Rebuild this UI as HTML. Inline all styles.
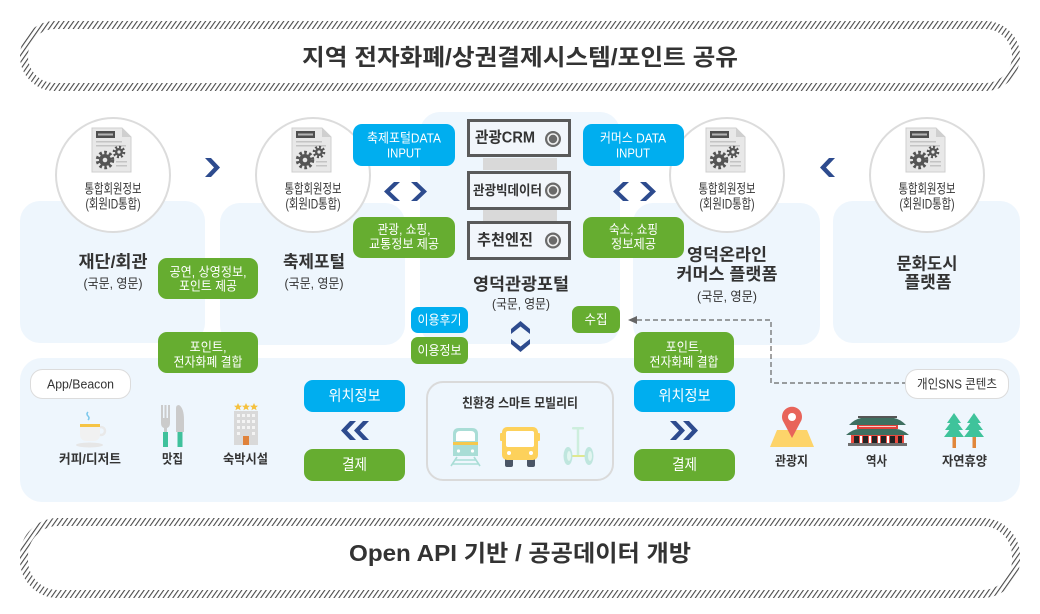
<!DOCTYPE html>
<html><head><meta charset="utf-8"><style>
html,body{margin:0;padding:0;background:#fff;}
svg{display:block;}
text{font-family:"Liberation Sans","Noto Sans CJK KR",sans-serif;}
.d{fill:#333;}
.w{fill:#fff;}
.b{font-weight:bold;}
</style></head><body>
<svg width="1040" height="614" viewBox="0 0 1040 614" xmlns="http://www.w3.org/2000/svg">
<defs>
<pattern id="hatch" patternUnits="userSpaceOnUse" width="4" height="4" patternTransform="rotate(35)">
<rect x="0" y="0" width="1.1" height="4" fill="#4a4a4a"/>
</pattern>
<g id="doc">
<path d="M0,0 H30 L39,9 V44 H0 Z" fill="#e8e8e8" stroke="#cfcfcf" stroke-width="1"/>
<path d="M30,0 V9 H39 Z" fill="#cfcfcf"/>
<rect x="4" y="3" width="19" height="7" fill="#4f4f4f"/>
<rect x="6" y="5.5" width="15" height="2" fill="#b5b5b5"/>
<rect x="4" y="13" width="26" height="1.5" fill="#c4c4c4"/>
<rect x="4" y="17" width="30" height="1.5" fill="#c4c4c4"/>
<rect x="24" y="33" width="11" height="1.5" fill="#c4c4c4"/>
<rect x="24" y="37" width="11" height="1.5" fill="#c4c4c4"/>
<circle cx="13" cy="32" r="7.5" fill="none" stroke="#555" stroke-width="3.5" stroke-dasharray="2.6,2.3"/>
<circle cx="13" cy="32" r="6" fill="#555"/>
<circle cx="13" cy="32" r="2.3" fill="#e8e8e8"/>
<circle cx="27" cy="24" r="5" fill="none" stroke="#555" stroke-width="2.6" stroke-dasharray="2,1.9"/>
<circle cx="27" cy="24" r="4" fill="#555"/>
<circle cx="27" cy="24" r="1.6" fill="#e8e8e8"/>
</g>
<g id="crmdot">
<circle cx="0" cy="0" r="8" fill="#6a6a6a"/>
<circle cx="0" cy="0" r="5" fill="none" stroke="#f0f0f0" stroke-width="1.6"/>
<circle cx="0" cy="0" r="3.3" fill="#6a6a6a"/>
</g>
</defs>

<!-- Top banner -->
<rect x="24" y="25" width="992" height="62" rx="31" fill="#fff" stroke="url(#hatch)" stroke-width="8"/>
<text x="520" y="57" text-anchor="middle" dominant-baseline="central" class="d b" font-size="23" textLength="436" lengthAdjust="spacingAndGlyphs">지역 전자화폐/상권결제시스템/포인트 공유</text>

<!-- Bottom banner -->
<rect x="24" y="522" width="992" height="72" rx="34" fill="#fff" stroke="url(#hatch)" stroke-width="8"/>
<text x="520" y="553" text-anchor="middle" dominant-baseline="central" class="d b" font-size="23" textLength="342" lengthAdjust="spacingAndGlyphs">Open API 기반 / 공공데이터 개방</text>

<!-- Panels -->
<rect x="20" y="201" width="185" height="142" rx="20" fill="#eef6fd"/>
<rect x="220" y="203" width="185" height="142" rx="20" fill="#eef6fd"/>
<rect x="420" y="112" width="200" height="232" rx="20" fill="#eef6fd"/>
<rect x="633" y="203" width="187" height="142" rx="20" fill="#eef6fd"/>
<rect x="833" y="201" width="187" height="142" rx="20" fill="#eef6fd"/>
<rect x="20" y="358" width="1000" height="144" rx="22" fill="#eef6fd"/>

<!-- Circles -->
<g>
<circle cx="113" cy="175" r="57" fill="#fff" stroke="#dcdcdc" stroke-width="2"/>
<use href="#doc" transform="translate(92,128)"/>
<text x="113" y="189" text-anchor="middle" dominant-baseline="central" class="d" font-size="13.5" textLength="57" lengthAdjust="spacingAndGlyphs">통합회원정보</text>
<text x="113" y="204" text-anchor="middle" dominant-baseline="central" class="d" font-size="13.5" textLength="55" lengthAdjust="spacingAndGlyphs">(회원ID통합)</text>
</g>
<g>
<circle cx="313" cy="175" r="57" fill="#fff" stroke="#dcdcdc" stroke-width="2"/>
<use href="#doc" transform="translate(292,128)"/>
<text x="313" y="189" text-anchor="middle" dominant-baseline="central" class="d" font-size="13.5" textLength="57" lengthAdjust="spacingAndGlyphs">통합회원정보</text>
<text x="313" y="204" text-anchor="middle" dominant-baseline="central" class="d" font-size="13.5" textLength="55" lengthAdjust="spacingAndGlyphs">(회원ID통합)</text>
</g>
<g>
<circle cx="727" cy="175" r="57" fill="#fff" stroke="#dcdcdc" stroke-width="2"/>
<use href="#doc" transform="translate(706,128)"/>
<text x="727" y="189" text-anchor="middle" dominant-baseline="central" class="d" font-size="13.5" textLength="57" lengthAdjust="spacingAndGlyphs">통합회원정보</text>
<text x="727" y="204" text-anchor="middle" dominant-baseline="central" class="d" font-size="13.5" textLength="55" lengthAdjust="spacingAndGlyphs">(회원ID통합)</text>
</g>
<g>
<circle cx="927" cy="175" r="57" fill="#fff" stroke="#dcdcdc" stroke-width="2"/>
<use href="#doc" transform="translate(906,128)"/>
<text x="927" y="189" text-anchor="middle" dominant-baseline="central" class="d" font-size="13.5" textLength="57" lengthAdjust="spacingAndGlyphs">통합회원정보</text>
<text x="927" y="204" text-anchor="middle" dominant-baseline="central" class="d" font-size="13.5" textLength="55" lengthAdjust="spacingAndGlyphs">(회원ID통합)</text>
</g>

<!-- Chevrons -->
<g fill="#2d4b8e">
<polygon points="205,158 211,158 220,167.5 211,177 205,177 214,167.5"/>
<polygon points="835,158 829,158 820,167.5 829,177 835,177 826,167.5"/>
<polygon points="400,182 394,182 384,191.5 394,201 400,201 390,191.5"/>
<polygon points="411,182 417,182 427,191.5 417,201 411,201 421,191.5"/>
<polygon points="629,182 623,182 613,191.5 623,201 629,201 619,191.5"/>
<polygon points="640,182 646,182 656,191.5 646,201 640,201 650,191.5"/>
<polygon points="511,334 511,329 520.5,321 530,329 530,334 520.5,326.5"/>
<polygon points="511,339 511,344 520.5,352 530,344 530,339 520.5,346.5"/>
<polygon points="356,421 350,421 341,430.5 350,440 356,440 347,430.5"/>
<polygon points="369,421 363,421 354,430.5 363,440 369,440 360,430.5"/>
<polygon points="670,421 676,421 685,430.5 676,440 670,440 679,430.5"/>
<polygon points="683,421 689,421 698,430.5 689,440 683,440 692,430.5"/>
</g>

<!-- Top side boxes -->
<rect x="353" y="124" width="102" height="42" rx="9" fill="#00aeef"/>
<text x="404" y="138" text-anchor="middle" dominant-baseline="central" class="w" font-size="13" textLength="74" lengthAdjust="spacingAndGlyphs">축제포털DATA</text>
<text x="404" y="153" text-anchor="middle" dominant-baseline="central" class="w" font-size="13" textLength="34" lengthAdjust="spacingAndGlyphs">INPUT</text>
<rect x="583" y="124" width="101" height="42" rx="9" fill="#00aeef"/>
<text x="633" y="138" text-anchor="middle" dominant-baseline="central" class="w" font-size="13" textLength="66" lengthAdjust="spacingAndGlyphs">커머스 DATA</text>
<text x="633" y="153" text-anchor="middle" dominant-baseline="central" class="w" font-size="13" textLength="34" lengthAdjust="spacingAndGlyphs">INPUT</text>
<rect x="353" y="217" width="102" height="41" rx="9" fill="#66ad30"/>
<text x="404" y="229.5" text-anchor="middle" dominant-baseline="central" class="w" font-size="13" textLength="53" lengthAdjust="spacingAndGlyphs">관광, 쇼핑,</text>
<text x="404" y="244" text-anchor="middle" dominant-baseline="central" class="w" font-size="13" textLength="70" lengthAdjust="spacingAndGlyphs">교통정보 제공</text>
<rect x="583" y="217" width="101" height="41" rx="9" fill="#66ad30"/>
<text x="633.5" y="229.5" text-anchor="middle" dominant-baseline="central" class="w" font-size="13" textLength="49" lengthAdjust="spacingAndGlyphs">숙소, 쇼핑</text>
<text x="633.5" y="244" text-anchor="middle" dominant-baseline="central" class="w" font-size="13" textLength="45" lengthAdjust="spacingAndGlyphs">정보제공</text>

<!-- CRM stack -->
<rect x="483" y="158" width="74" height="12" fill="#d9d9d9"/>
<rect x="483" y="210" width="74" height="12" fill="#d9d9d9"/>
<rect x="468.5" y="120.5" width="101" height="35" fill="#f2f6fb" stroke="#5a5a5a" stroke-width="3"/>
<rect x="468.5" y="172.5" width="101" height="36" fill="#f2f6fb" stroke="#5a5a5a" stroke-width="3"/>
<rect x="468.5" y="222.5" width="101" height="36" fill="#f2f6fb" stroke="#5a5a5a" stroke-width="3"/>
<text x="505" y="138" text-anchor="middle" dominant-baseline="central" class="d b" font-size="15.5" textLength="60" lengthAdjust="spacingAndGlyphs">관광CRM</text>
<text x="507.5" y="190.5" text-anchor="middle" dominant-baseline="central" class="d b" font-size="13.5" textLength="69" lengthAdjust="spacingAndGlyphs">관광빅데이터</text>
<text x="505" y="240.5" text-anchor="middle" dominant-baseline="central" class="d b" font-size="15.5" textLength="56" lengthAdjust="spacingAndGlyphs">추천엔진</text>
<use href="#crmdot" transform="translate(553,139)"/>
<use href="#crmdot" transform="translate(553,190.5)"/>
<use href="#crmdot" transform="translate(553,240.5)"/>

<!-- Panel titles -->
<text x="113" y="262" text-anchor="middle" dominant-baseline="central" class="d b" font-size="17" textLength="69" lengthAdjust="spacingAndGlyphs">재단/회관</text>
<text x="113" y="283.5" text-anchor="middle" dominant-baseline="central" class="d" font-size="13" textLength="59" lengthAdjust="spacingAndGlyphs">(국문, 영문)</text>
<text x="314" y="262" text-anchor="middle" dominant-baseline="central" class="d b" font-size="17" textLength="62" lengthAdjust="spacingAndGlyphs">축제포털</text>
<text x="314" y="283.5" text-anchor="middle" dominant-baseline="central" class="d" font-size="13" textLength="59" lengthAdjust="spacingAndGlyphs">(국문, 영문)</text>
<text x="521" y="284.5" text-anchor="middle" dominant-baseline="central" class="d b" font-size="17" textLength="96" lengthAdjust="spacingAndGlyphs">영덕관광포털</text>
<text x="521" y="304" text-anchor="middle" dominant-baseline="central" class="d" font-size="13" textLength="58" lengthAdjust="spacingAndGlyphs">(국문, 영문)</text>
<text x="727" y="255" text-anchor="middle" dominant-baseline="central" class="d b" font-size="17" textLength="80" lengthAdjust="spacingAndGlyphs">영덕온라인</text>
<text x="727" y="274.5" text-anchor="middle" dominant-baseline="central" class="d b" font-size="17" textLength="101" lengthAdjust="spacingAndGlyphs">커머스 플랫폼</text>
<text x="727" y="296.5" text-anchor="middle" dominant-baseline="central" class="d" font-size="13" textLength="60" lengthAdjust="spacingAndGlyphs">(국문, 영문)</text>
<text x="927" y="264" text-anchor="middle" dominant-baseline="central" class="d b" font-size="17" textLength="61" lengthAdjust="spacingAndGlyphs">문화도시</text>
<text x="928" y="282.5" text-anchor="middle" dominant-baseline="central" class="d b" font-size="17" textLength="47" lengthAdjust="spacingAndGlyphs">플랫폼</text>

<!-- Middle green boxes -->
<rect x="158" y="258" width="100" height="41" rx="9" fill="#66ad30"/>
<text x="208" y="272" text-anchor="middle" dominant-baseline="central" class="w" font-size="13" textLength="77" lengthAdjust="spacingAndGlyphs">공연, 상영정보,</text>
<text x="208" y="286" text-anchor="middle" dominant-baseline="central" class="w" font-size="13" textLength="58" lengthAdjust="spacingAndGlyphs">포인트 제공</text>
<rect x="158" y="332" width="100" height="41" rx="9" fill="#66ad30"/>
<text x="208" y="347" text-anchor="middle" dominant-baseline="central" class="w" font-size="13" textLength="37" lengthAdjust="spacingAndGlyphs">포인트,</text>
<text x="208" y="362" text-anchor="middle" dominant-baseline="central" class="w" font-size="13" textLength="69" lengthAdjust="spacingAndGlyphs">전자화폐 결합</text>
<rect x="634" y="332" width="100" height="41" rx="9" fill="#66ad30"/>
<text x="684" y="347" text-anchor="middle" dominant-baseline="central" class="w" font-size="13" textLength="37" lengthAdjust="spacingAndGlyphs">포인트,</text>
<text x="684" y="362" text-anchor="middle" dominant-baseline="central" class="w" font-size="13" textLength="69" lengthAdjust="spacingAndGlyphs">전자화폐 결합</text>

<rect x="411" y="307" width="57" height="26" rx="7" fill="#00aeef"/>
<text x="439.5" y="320" text-anchor="middle" dominant-baseline="central" class="w" font-size="13" textLength="44" lengthAdjust="spacingAndGlyphs">이용후기</text>
<rect x="411" y="337" width="57" height="27" rx="7" fill="#66ad30"/>
<text x="439.5" y="350.5" text-anchor="middle" dominant-baseline="central" class="w" font-size="13" textLength="44" lengthAdjust="spacingAndGlyphs">이용정보</text>
<rect x="572" y="306" width="48" height="27" rx="7" fill="#66ad30"/>
<text x="596" y="319.5" text-anchor="middle" dominant-baseline="central" class="w" font-size="13" textLength="23" lengthAdjust="spacingAndGlyphs">수집</text>

<!-- Dashed connector -->
<polyline points="637,320 771,320 771,383 905,383" fill="none" stroke="#666" stroke-width="1.2" stroke-dasharray="5,3"/>
<polygon points="628,320 637,316 637,324" fill="#666"/>

<!-- Bottom panel content -->
<rect x="30.5" y="369.5" width="100" height="29" rx="12" fill="#fff" stroke="#dcdcdc"/>
<text x="80.5" y="384" text-anchor="middle" dominant-baseline="central" class="d" font-size="13" textLength="67" lengthAdjust="spacingAndGlyphs">App/Beacon</text>
<rect x="905.5" y="369.5" width="103" height="29" rx="12" fill="#fff" stroke="#dcdcdc"/>
<text x="957" y="384" text-anchor="middle" dominant-baseline="central" class="d" font-size="13" textLength="80" lengthAdjust="spacingAndGlyphs">개인SNS 콘텐츠</text>

<rect x="304" y="380" width="101" height="32" rx="9" fill="#00aeef"/>
<text x="354.5" y="396" text-anchor="middle" dominant-baseline="central" class="w" font-size="15" textLength="52" lengthAdjust="spacingAndGlyphs">위치정보</text>
<rect x="304" y="449" width="101" height="32" rx="9" fill="#66ad30"/>
<text x="354.5" y="465" text-anchor="middle" dominant-baseline="central" class="w" font-size="15" textLength="25" lengthAdjust="spacingAndGlyphs">결제</text>
<rect x="634" y="380" width="101" height="32" rx="9" fill="#00aeef"/>
<text x="684.5" y="396" text-anchor="middle" dominant-baseline="central" class="w" font-size="15" textLength="52" lengthAdjust="spacingAndGlyphs">위치정보</text>
<rect x="634" y="449" width="101" height="32" rx="9" fill="#66ad30"/>
<text x="684.5" y="465" text-anchor="middle" dominant-baseline="central" class="w" font-size="15" textLength="25" lengthAdjust="spacingAndGlyphs">결제</text>

<rect x="427" y="382" width="186" height="98" rx="16" fill="#eef6fd" stroke="#dadada" stroke-width="2"/>
<text x="520" y="403" text-anchor="middle" dominant-baseline="central" class="d b" font-size="13" textLength="116" lengthAdjust="spacingAndGlyphs">친환경 스마트 모빌리티</text>

<!-- Labels -->
<text x="90" y="459" text-anchor="middle" dominant-baseline="central" class="d b" font-size="13" textLength="62" lengthAdjust="spacingAndGlyphs">커피/디저트</text>
<text x="172.5" y="459" text-anchor="middle" dominant-baseline="central" class="d b" font-size="13" textLength="21" lengthAdjust="spacingAndGlyphs">맛집</text>
<text x="245.5" y="459" text-anchor="middle" dominant-baseline="central" class="d b" font-size="13" textLength="45" lengthAdjust="spacingAndGlyphs">숙박시설</text>
<text x="791.5" y="461" text-anchor="middle" dominant-baseline="central" class="d b" font-size="13" textLength="33" lengthAdjust="spacingAndGlyphs">관광지</text>
<text x="876.5" y="461" text-anchor="middle" dominant-baseline="central" class="d b" font-size="13" textLength="21" lengthAdjust="spacingAndGlyphs">역사</text>
<text x="964.5" y="461" text-anchor="middle" dominant-baseline="central" class="d b" font-size="13" textLength="45" lengthAdjust="spacingAndGlyphs">자연휴양</text>

<!-- Coffee icon -->
<path d="M88,412 q-2,2 0,4 q2,2 0,4" fill="none" stroke="#7cc8ec" stroke-width="1.5"/>
<ellipse cx="89.5" cy="445" rx="13.5" ry="2.5" fill="#e6e6e6"/>
<circle cx="101" cy="431" r="4" fill="none" stroke="#e9e9e9" stroke-width="2.5"/>
<path d="M80,424 H100 V434 Q100,441 93,441 H87 Q80,441 80,434 Z" fill="#f1f1f1"/>
<rect x="80" y="424" width="20" height="3" fill="#f6c445"/>

<!-- Fork & knife -->
<g fill="#cbcbcb">
<rect x="161" y="405" width="2" height="14"/>
<rect x="164.5" y="405" width="2" height="14"/>
<rect x="168" y="405" width="2" height="14"/>
<path d="M161,418 H170 V423 Q170,427 167,428 V432 H164 V428 Q161,427 161,423 Z"/>
<path d="M176,432 V408 Q176,405 179,405 Q184,408 184,420 V432 Z"/>
</g>
<rect x="163" y="432" width="5" height="15" fill="#3fc19c"/>
<rect x="177.5" y="432" width="5" height="15" fill="#3fc19c"/>

<!-- Hotel -->
<g fill="#f5c13e">
<polygon points="238,403 239.2,405.6 242,405.8 239.8,407.6 240.6,410.3 238,408.8 235.4,410.3 236.2,407.6 234,405.8 236.8,405.6"/>
<polygon points="246,403 247.2,405.6 250,405.8 247.8,407.6 248.6,410.3 246,408.8 243.4,410.3 244.2,407.6 242,405.8 244.8,405.6"/>
<polygon points="254,403 255.2,405.6 258,405.8 255.8,407.6 256.6,410.3 254,408.8 251.4,410.3 252.2,407.6 250,405.8 252.8,405.6"/>
</g>
<rect x="234" y="411" width="24" height="34" fill="#d9d9d9"/>
<g fill="#f4f4f4">
<rect x="237" y="414" width="3" height="3"/><rect x="242" y="414" width="3" height="3"/><rect x="247" y="414" width="3" height="3"/><rect x="252" y="414" width="3" height="3"/>
<rect x="237" y="420" width="3" height="3"/><rect x="242" y="420" width="3" height="3"/><rect x="247" y="420" width="3" height="3"/><rect x="252" y="420" width="3" height="3"/>
<rect x="237" y="426" width="3" height="3"/><rect x="242" y="426" width="3" height="3"/><rect x="247" y="426" width="3" height="3"/><rect x="252" y="426" width="3" height="3"/>
<rect x="237" y="432" width="3" height="3"/><rect x="252" y="432" width="3" height="3"/>
</g>
<rect x="243" y="436" width="6" height="9" fill="#e0823a"/>

<!-- Train -->
<path d="M453,456 V434 Q453,428 459,428 H472 Q478,428 478,434 V456 Z" fill="#a9ddd6"/>
<path d="M456,441 V435 Q456,431 460,431 H471 Q475,431 475,435 V441 Z" fill="#fff"/>
<rect x="453" y="442" width="25" height="3" fill="#f5c84c"/>
<circle cx="458.5" cy="451" r="1.6" fill="#fff"/>
<circle cx="472.5" cy="451" r="1.6" fill="#fff"/>
<g stroke="#a9ddd6" stroke-width="1.6">
<line x1="457" y1="457" x2="451" y2="466"/>
<line x1="474" y1="457" x2="480" y2="466"/>
<line x1="455" y1="460" x2="476" y2="460"/>
<line x1="453" y1="464" x2="478" y2="464"/>
</g>

<!-- Bus -->
<rect x="500" y="433" width="3" height="8" rx="1" fill="#fdd15b"/>
<rect x="537" y="433" width="3" height="8" rx="1" fill="#fdd15b"/>
<rect x="505" y="457" width="8" height="10" rx="2" fill="#4a5566"/>
<rect x="527" y="457" width="8" height="10" rx="2" fill="#4a5566"/>
<rect x="502" y="427" width="36" height="33" rx="5" fill="#fdd15b"/>
<rect x="506" y="431" width="28" height="16" rx="2" fill="#fff"/>
<circle cx="509" cy="453" r="2" fill="#fff"/>
<circle cx="531" cy="453" r="2" fill="#fff"/>

<!-- Segway -->
<rect x="572" y="427" width="12" height="2.5" rx="1" fill="#cdeedd"/>
<line x1="578" y1="429" x2="578" y2="456" stroke="#cdeedd" stroke-width="2.5"/>
<line x1="570" y1="456" x2="588" y2="456" stroke="#dfe88f" stroke-width="2"/>
<ellipse cx="568" cy="456" rx="4.5" ry="9" fill="#bfe6de"/>
<ellipse cx="589" cy="456" rx="4.5" ry="9" fill="#bfe6de"/>
<ellipse cx="569" cy="456" rx="2" ry="5" fill="#e2f5f0"/>
<ellipse cx="590" cy="456" rx="2" ry="5" fill="#e2f5f0"/>

<!-- Map pin -->
<polygon points="777,430 807,430 814,447 770,447" fill="#fdd46a"/>
<path d="M792,438 L783.5,422 A10,10 0 1 1 800.5,422 Z" fill="#e8645a"/>
<circle cx="792" cy="417" r="4" fill="#fff"/>

<!-- Palace -->
<rect x="858" y="416" width="39" height="2" fill="#555"/>
<path d="M849,425 Q855,419 861,418 L894,418 Q900,419 906,425 Z" fill="#3e6f60"/>
<rect x="857" y="425" width="41" height="4" fill="#e2413b"/>
<rect x="859" y="426" width="37" height="1" fill="#f7d0c8"/>
<path d="M846,435 Q853,429 859,429 L896,429 Q902,429 909,435 Z" fill="#3e6f60"/>
<rect x="851" y="435" width="53" height="8" fill="#e84a3f"/>
<g fill="#222"><rect x="854" y="436" width="5" height="7"/><rect x="863" y="436" width="5" height="7"/><rect x="872" y="436" width="5" height="7"/><rect x="881" y="436" width="5" height="7"/><rect x="890" y="436" width="5" height="7"/><rect x="898" y="436" width="4" height="7"/></g>
<g fill="#fff"><rect x="860" y="436" width="2" height="7"/><rect x="869" y="436" width="2" height="7"/><rect x="878" y="436" width="2" height="7"/><rect x="887" y="436" width="2" height="7"/></g>
<rect x="848" y="443" width="59" height="3" fill="#6f6f6f"/>

<!-- Trees -->
<g fill="#3fc39b">
<polygon points="954,413 947,423 961,423"/>
<polygon points="954,418 945,430 963,430"/>
<polygon points="954,424 944,437 964,437"/>
<polygon points="974,413 967,423 981,423"/>
<polygon points="974,418 965,430 983,430"/>
<polygon points="974,424 964,437 984,437"/>
</g>
<rect x="952.5" y="437" width="3.5" height="11" fill="#e0873b"/>
<rect x="972.5" y="437" width="3.5" height="11" fill="#e0873b"/>
</svg>
</body></html>
